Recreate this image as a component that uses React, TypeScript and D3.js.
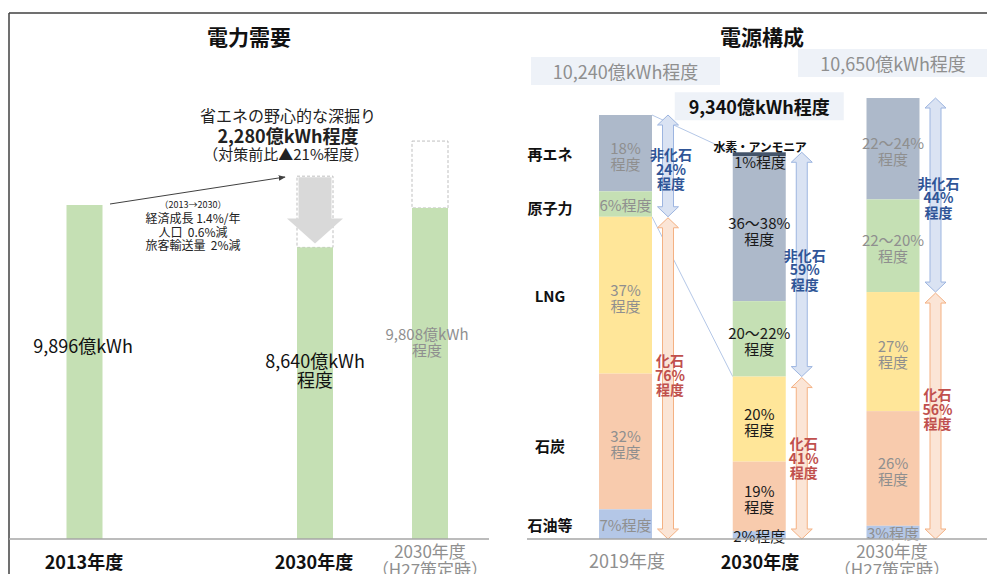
import React from "react";
import * as d3 from "d3";

// ---------- DATA ----------
const demandCategories = ["2013年度", "2030年度", "2030年度（H27策定時）"];
const demandValues = [9896, 8640, 9808];
const demandBeforeMeasures = [null, 10750, 11790];
const demandLabels = [["9,896億kWh"], ["8,640億kWh", "程度"], ["9,808億kWh", "程度"]];

const mixYears = ["2019年度", "2030年度", "2030年度（H27策定時）"];
const mixTotals = [10240, 9340, 10650];
const mixTotalLabels = ["10,240億kWh程度", "9,340億kWh程度", "10,650億kWh程度"];
const sources = ["水素・アンモニア", "再エネ", "原子力", "LNG", "石炭", "石油等"];
const shareHydrogen = [0, 1, 0];
const shareRenewable = [18, 37.5, 23];
const shareNuclear = [6, 19.5, 21];
const shareLNG = [37, 22, 27];
const shareCoal = [32, 18, 26];
const shareOil = [7, 2, 3];
const labelsRenewable = [["18%", "程度"], ["36～38%", "程度"], ["22～24%", "程度"]];
const labelsNuclear = [["6%程度"], ["20～22%", "程度"], ["22～20%", "程度"]];
const labelsLNG = [["37%", "程度"], ["20%", "程度"], ["27%", "程度"]];
const labelsCoal = [["32%", "程度"], ["19%", "程度"], ["26%", "程度"]];
const labelsOil = [["7%程度"], ["2%程度"], ["3%程度"]];
const nonFossilPct = ["24%", "59%", "44%"];
const fossilPct = ["76%", "41%", "56%"];

// ---------- STYLE ----------
const FONT = "'Noto Sans CJK JP', 'Noto Sans', sans-serif";
const W = 987, H = 574;
const BASE = 539;
const GRAY_TXT = "#8f8f8f";
const srcColors = ["#44546A", "#ADB9CA", "#C5E0B4", "#FFE699", "#F8CBAD", "#B4C7E7"];
const NB = "\u00A0";

function Lines({ x, y, lines, lh, ...rest }: any) {
  const n = lines.length;
  return (
    <text x={x} textAnchor="middle" fontFamily={FONT} {...rest}>
      {lines.map((l: string, i: number) => (
        <tspan key={i} x={x} y={y + (i - (n - 1) / 2) * lh} dominantBaseline="central">{l}</tspan>
      ))}
    </text>
  );
}

function dblArrow(cx: number, y1: number, y2: number, sw = 5.5, hw = 10.5, hl = 10) {
  return `M${cx},${y1}L${cx + hw},${y1 + hl}L${cx + sw},${y1 + hl}L${cx + sw},${y2 - hl}L${cx + hw},${y2 - hl}L${cx},${y2}L${cx - hw},${y2 - hl}L${cx - sw},${y2 - hl}L${cx - sw},${y1 + hl}L${cx - hw},${y1 + hl}Z`;
}

export default function App() {
  const xL = d3.scaleOrdinal<string, number>().domain(demandCategories).range([84.5, 315, 430]);
  const yL = d3.scaleLinear().domain([0, demandValues[0]]).range([BASE, 205]);
  const bwL = 36;

  const xR = d3.scalePoint<string>().domain(mixYears).range([625.5, 893]);
  const yR = d3.scaleLinear().domain([0, mixTotals[0]]).range([BASE, 115]);
  const bwR = 53;

  const shares = [shareHydrogen, shareRenewable, shareNuclear, shareLNG, shareCoal, shareOil];
  const segLabels = [null, labelsRenewable, labelsNuclear, labelsLNG, labelsCoal, labelsOil];

  const stacks = mixYears.map((yr, j) => {
    const total = mixTotals[j];
    const top = yR(total);
    const h = BASE - top;
    let cum = 0;
    return sources.map((s, i) => {
      const y0 = top + (cum / 100) * h;
      cum += shares[i][j];
      const y1 = top + (cum / 100) * h;
      return { src: s, i, y0, y1 };
    });
  });

  const boxW = [189, 169, 190];
  const boxOff = [44, 46, 35];
  const boxBold = [false, true, false];
  const nfOff = [3, 5, 2];
  const fOff = [-3, 0, -7];

  return (
    <div style={{ position: "absolute", left: 0, top: 0 }}>
      <svg width={W} height={H} style={{ display: "block", background: "#fff" }}>
        <defs>
          <marker id="ah" viewBox="0 0 10 10" refX="9" refY="5" markerWidth="7" markerHeight="7" orient="auto">
            <path d="M0,1L10,5L0,9Z" fill="#404040" />
          </marker>
        </defs>
        <line x1={9} y1={13} x2={W} y2={13} stroke="#404040" strokeWidth={1.5} />
        <line x1={9} y1={13} x2={9} y2={H} stroke="#404040" strokeWidth={1.5} />

        {/* ===== Left panel ===== */}
        <text x={249} y={36} textAnchor="middle" dominantBaseline="central" fontFamily={FONT} fontWeight="bold" fontSize={21} fill="#111">電力需要</text>

        {demandCategories.map((c, i) => {
          const cx = xL(c);
          const bf = demandBeforeMeasures[i];
          return (
            <g key={c}>
              {bf != null && (
                <rect x={cx - bwL / 2} y={yL(bf)} width={bwL} height={yL(demandValues[i]) - yL(bf)} fill="none" stroke="#BFBFBF" strokeDasharray="3,2" strokeWidth={1} />
              )}
              <rect x={cx - bwL / 2} y={yL(demandValues[i])} width={bwL} height={BASE - yL(demandValues[i])} fill="#C5E0B4" />
            </g>
          );
        })}
        {(() => {
          const cx = xL(demandCategories[1]);
          const top = yL(demandBeforeMeasures[1] as number) + 1;
          const tip = yL(demandValues[1]) - 4;
          const hb = tip - 25;
          const sw = bwL / 2 - 1.5, hw = bwL / 2 + 10;
          return <path d={`M${cx - sw},${top}L${cx + sw},${top}L${cx + sw},${hb}L${cx + hw},${hb}L${cx},${tip}L${cx - hw},${hb}L${cx - sw},${hb}Z`} fill="#D9D9D9" />;
        })()}
        <line x1={110} y1={204} x2={285} y2={177} stroke="#404040" strokeWidth={1} markerEnd="url(#ah)" />

        <text x={288} y={115} textAnchor="middle" dominantBaseline="central" fontFamily={FONT} fontSize={16} fill="#222">省エネの野心的な深掘り</text>
        <text x={288} y={135} textAnchor="middle" dominantBaseline="central" fontFamily={FONT} fontSize={18} fontWeight="bold" fill="#222">2,280億kWh程度</text>
        <text x={286} y={153} textAnchor="middle" dominantBaseline="central" fontFamily={FONT} fontSize={15} fill="#222">（対策前比▲21%程度）</text>

        <text x={193} y={204} textAnchor="middle" dominantBaseline="central" fontFamily={FONT} fontSize={9} fill="#222">（2013→2030）</text>
        <text x={193} y={217.5} textAnchor="middle" dominantBaseline="central" fontFamily={FONT} fontSize={12} fill="#222">{`経済成長${NB}1.4%/年`}</text>
        <text x={193} y={231} textAnchor="middle" dominantBaseline="central" fontFamily={FONT} fontSize={12} fill="#222">{`人口${NB}${NB}0.6%減`}</text>
        <text x={193} y={244.5} textAnchor="middle" dominantBaseline="central" fontFamily={FONT} fontSize={12} fill="#222">{`旅客輸送量${NB}${NB}2%減`}</text>

        <Lines x={83} y={345} lines={demandLabels[0]} lh={18} fontSize={18} fill="#111" />
        <Lines x={315} y={369} lines={demandLabels[1]} lh={19} fontSize={18} fill="#111" />
        <Lines x={427} y={341} lines={demandLabels[2]} lh={16} fontSize={15} fill={GRAY_TXT} />

        <line x1={9} y1={BASE} x2={489} y2={BASE} stroke="#A6A6A6" strokeWidth={1.5} />
        <text x={84} y={561} textAnchor="middle" dominantBaseline="central" fontFamily={FONT} fontSize={18} fontWeight="bold" fill="#111">2013年度</text>
        <text x={314} y={561} textAnchor="middle" dominantBaseline="central" fontFamily={FONT} fontSize={18} fontWeight="bold" fill="#111">2030年度</text>
        <Lines x={430} y={559} lines={["2030年度", "（H27策定時）"]} lh={18} fontSize={17} fill={GRAY_TXT} />

        {/* ===== Right panel ===== */}
        <text x={762} y={36} textAnchor="middle" dominantBaseline="central" fontFamily={FONT} fontWeight="bold" fontSize={21} fill="#111">電源構成</text>

        {mixYears.map((yr, j) => {
          const cx = xR(yr) as number;
          const ty = yR(mixTotals[j]) - boxOff[j];
          return (
            <g key={"box" + j}>
              <rect x={cx - boxW[j] / 2} y={ty - 14} width={boxW[j]} height={28} fill="#EEF2F8" />
              <text x={cx} y={ty} textAnchor="middle" dominantBaseline="central" fontFamily={FONT} fontSize={18} fontWeight={boxBold[j] ? "bold" : "normal"} fill={boxBold[j] ? "#111" : GRAY_TXT}>{mixTotalLabels[j]}</text>
            </g>
          );
        })}

        <line x1={xR(mixYears[0])! + bwR / 2} y1={stacks[0][0].y0} x2={xR(mixYears[1])! - bwR / 2} y2={stacks[1][0].y0} stroke="#B4C7E7" strokeWidth={1} />
        <line x1={xR(mixYears[0])! + bwR / 2} y1={stacks[0][2].y1} x2={xR(mixYears[1])! - bwR / 2} y2={stacks[1][2].y1} stroke="#B4C7E7" strokeWidth={1} />

        {mixYears.map((yr, j) => {
          const cx = xR(yr) as number;
          const dark = j === 1;
          const col = dark ? "#1a1a1a" : GRAY_TXT;
          return (
            <g key={yr}>
              {stacks[j].map((s) => s.y1 > s.y0 && (
                <rect key={s.src} x={cx - bwR / 2} y={s.y0} width={bwR} height={s.y1 - s.y0} fill={srcColors[s.i]} />
              ))}
              {stacks[j].map((s) => {
                const lab = segLabels[s.i];
                if (!lab) return null;
                const l = lab[j];
                const mid = (s.y0 + s.y1) / 2 + (l.length > 1 ? 2 : 0);
                return <Lines key={"l" + s.src} x={cx} y={mid} lines={l} lh={16} fontSize={15} fill={col} />;
              })}
            </g>
          );
        })}
        <text x={760} y={146} textAnchor="middle" dominantBaseline="central" fontFamily={FONT} fontSize={12} fontWeight="bold" fill="#111" letterSpacing={-0.3}>水素・アンモニア</text>
        <text x={760} y={161} textAnchor="middle" dominantBaseline="central" fontFamily={FONT} fontSize={15} fill="#1a1a1a">1%程度</text>

        {mixYears.map((yr, j) => {
          const ax = (xR(yr) as number) + bwR / 2 + 16;
          const top = stacks[j][0].y0;
          const mid = stacks[j][2].y1;
          const nfMid = (top + mid) / 2;
          const fMid = (mid + BASE) / 2;
          return (
            <g key={"ar" + j}>
              <path d={dblArrow(ax, top, mid)} fill="#DAE3F3" stroke="#9DB5E0" strokeWidth={1} />
              <path d={dblArrow(ax, mid + 1, BASE)} fill="#FBE5D6" stroke="#F4B183" strokeWidth={1} />
              <Lines x={ax + 3} y={nfMid + nfOff[j]} lines={["非化石", nonFossilPct[j], "程度"]} lh={14.5} fontSize={14} fontWeight="bold" fill="#2F5597" />
              <Lines x={ax + 2} y={fMid + fOff[j]} lines={["化石", fossilPct[j], "程度"]} lh={14.5} fontSize={14} fontWeight="bold" fill="#C0504D" />
            </g>
          );
        })}

        {stacks[0].slice(1).map((s) => (
          <text key={"row" + s.src} x={550} y={(s.y0 + s.y1) / 2 + (s.i === 4 ? 4 : s.i === 2 ? 3 : 0)} textAnchor="middle" dominantBaseline="central" fontFamily={FONT} fontSize={15} fontWeight="bold" fill="#111">{s.src}</text>
        ))}

        <line x1={527} y1={BASE} x2={W} y2={BASE} stroke="#A6A6A6" strokeWidth={1.5} />
        <text x={627} y={560} textAnchor="middle" dominantBaseline="central" fontFamily={FONT} fontSize={18} fill={GRAY_TXT}>2019年度</text>
        <text x={760} y={561} textAnchor="middle" dominantBaseline="central" fontFamily={FONT} fontSize={18} fontWeight="bold" fill="#111">2030年度</text>
        <Lines x={892} y={559} lines={["2030年度", "（H27策定時）"]} lh={18} fontSize={17} fill={GRAY_TXT} />
      </svg>
    </div>
  );
}
